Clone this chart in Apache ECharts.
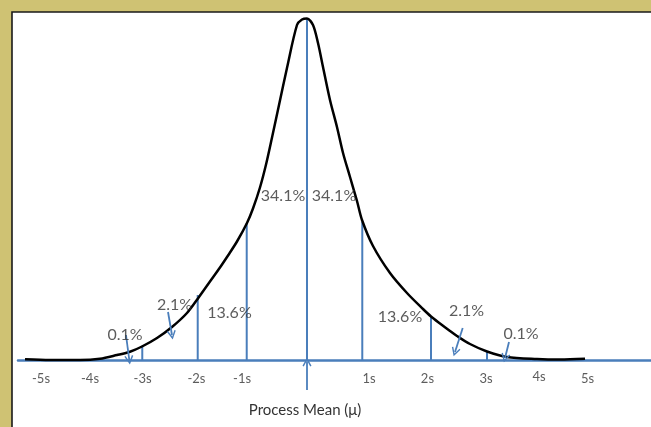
<!DOCTYPE html>
<html>
<head>
<meta charset="utf-8">
<script src="https://cdn.jsdelivr.net/npm/echarts@6/dist/echarts.min.js"></script>
<style>
  html, body { margin: 0; padding: 0; }
  #viz { width: 651px; height: 427px; }
</style>
</head>
<body>
<div id="viz"></div>
<script>
// curve: x in sigma units, y = height above the axis
const curveX = [-5.127, -4.673, -4.127, -3.764, -3.455, -3.218, -3.0, -2.727, -2.455, -2.182,
  -1.964, -1.764, -1.582, -1.436, -1.273, -1.091, -0.982, -0.855, -0.745, -0.636,
  -0.509, -0.364, -0.182, -0.091, 0, 0.109, 0.2, 0.291, 0.418, 0.545, 0.655, 0.782,
  0.909, 1.0, 1.2, 1.509, 1.818, 2.109, 2.255, 2.418, 2.6, 2.727, 2.964, 3.273,
  3.636, 4.182, 4.6, 5.055]
const curveY = [1.2, 0.5, 0.5, 1.8, 5.5, 8.8, 14, 22.5, 33.5, 47.5,
  63.5, 79, 93, 105, 119, 137.5, 152, 173, 196, 223,
  255.5, 292.5, 335.5, 341, 342, 335.5, 317.5, 293.5, 260.5, 233.5, 207.5, 183.5,
  159.5, 140.5, 114.5, 87.5, 67.5, 51.5, 44, 37, 29.5, 24.5, 16.5, 9,
  3.5, 1.5, 1, 1.8]

// vertical sigma lines
const sigmaX = [-2.995, -1.987, -1.096, 0, 1.005, 2.255, 3.273]
const sigmaY = [14.8, 65.5, 137.5, 342, 138.8, 44.5, 8.8]

// tick labels under the axis
const tickText = ['-5s', '-4s', '-3s', '-2s', '-1s', '1s', '2s', '3s', '4s', '5s']
const tickX = [-4.836, -3.945, -2.99, -2.01, -1.18, 1.127, 2.19, 3.255, 4.218, 5.1]
const tickY = [-18.8, -18.8, -18.8, -18.8, -18.8, -18.8, -18.8, -18.8, -16, -18.5]

// percentage labels
const pctText = ['34.1%', '34.1%', '13.6%', '13.6%', '2.1%', '2.1%', '0.1%', '0.1%']
const pctX = [-0.436, 0.491, -1.409, 1.691, -2.409, 2.9, -3.309, 3.891]
const pctY = [164.5, 164.5, 47.5, 43.5, 55.5, 49.5, 25.5, 26.5]

// arrows: start and end points
const arrowFrom = [[-3.291, 25.5], [-2.527, 48.5], [2.831, 32.5], [3.673, 18.5], [0, -29.5]]
const arrowTo = [[-3.231, 0.5], [-2.455, 25.5], [2.691, 8.5], [3.6, 2.5], [0, -1.5]]

const blue = '#4a7ebb'
const chevron = 'path://M5,0 L10,9 L8.6,9.8 L5,3.2 L1.4,9.8 L0,9 Z'

const myChart = echarts.init(document.getElementById('viz'))

myChart.setOption({
  animation: false,
  backgroundColor: '#cfc273',
  textStyle: { fontFamily: 'Lato' },
  graphic: [
    {
      type: 'rect',
      z: -10,
      shape: { x: 12, y: 12, width: 660, height: 440 },
      style: { fill: '#fff', stroke: '#1a1a1a', lineWidth: 1.6 },
    },
    {
      type: 'text',
      x: 305,
      y: 410,
      style: {
        text: 'Process Mean (μ)',
        font: '15px Lato',
        fill: '#333',
        align: 'center',
        verticalAlign: 'middle',
      },
    },
  ],
  grid: { left: 18, right: 0, top: 13, bottom: 0 },
  xAxis: {
    type: 'value',
    min: -5.2545,
    max: 6.2545,
    axisLine: { onZero: true, lineStyle: { color: blue, width: 2.5 } },
    axisTick: { show: false },
    axisLabel: { show: false },
    splitLine: { show: false },
  },
  yAxis: {
    type: 'value',
    min: -66.5,
    max: 347.5,
    show: false,
    splitLine: { show: false },
  },
  series: [
    {
      type: 'bar',
      barWidth: 2,
      itemStyle: { color: blue },
      data: sigmaX.map((x, i) => [x, sigmaY[i]]),
      z: 2,
    },
    {
      type: 'line',
      smooth: 0.3,
      symbol: 'none',
      lineStyle: { color: '#000', width: 2.5 },
      data: curveX.map((x, i) => [x, curveY[i]]),
      z: 3,
    },
    {
      type: 'lines',
      coordinateSystem: 'cartesian2d',
      symbol: ['none', chevron],
      symbolSize: 9,
      lineStyle: { color: blue, width: 1.8, opacity: 1 },
      data: arrowFrom.map((p, i) => ({ coords: [p, arrowTo[i]] })),
      z: 4,
    },
    {
      type: 'scatter',
      symbolSize: 1,
      itemStyle: { color: 'rgba(0,0,0,0)' },
      label: {
        show: true,
        position: 'inside',
        formatter: (p) => tickText[p.dataIndex],
        fontSize: 13,
        color: '#333',
      },
      data: tickX.map((x, i) => [x, tickY[i]]),
      z: 5,
    },
    {
      type: 'scatter',
      symbolSize: 1,
      itemStyle: { color: 'rgba(0,0,0,0)' },
      label: {
        show: true,
        position: 'inside',
        formatter: (p) => pctText[p.dataIndex],
        fontSize: 16,
        color: '#333',
      },
      data: pctX.map((x, i) => [x, pctY[i]]),
      z: 5,
    },
  ],
})
</script>
</body>
</html>
